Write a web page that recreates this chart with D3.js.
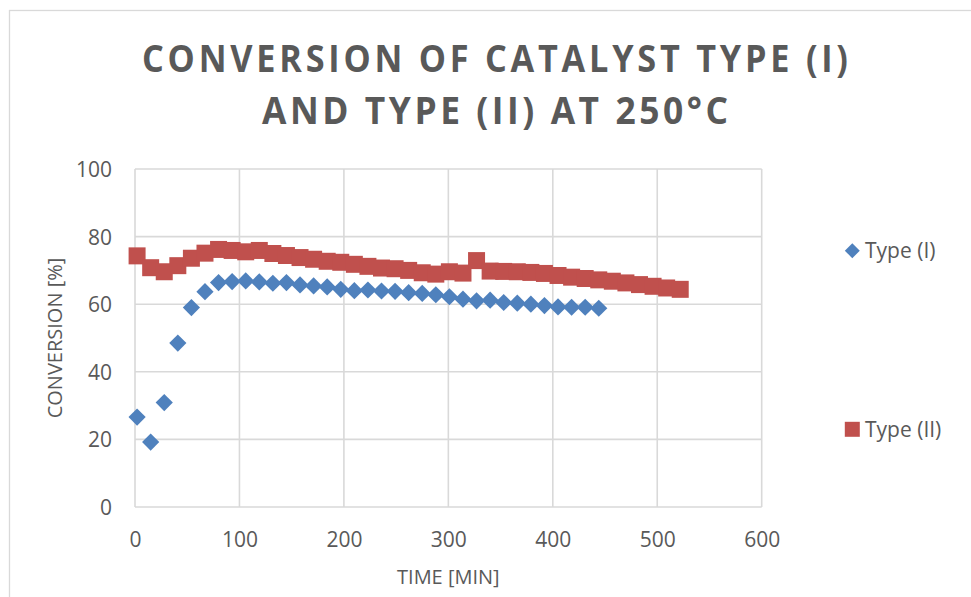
<!DOCTYPE html>
<html>
<head>
<meta charset="utf-8">
<script src="https://cdn.jsdelivr.net/npm/d3@7"></script>
<style>
  body { margin: 0; background: #ffffff; }
  svg { display: block; font-family: "Open Sans", sans-serif; }
</style>
</head>
<body>
<svg id="chart" width="971" height="597"></svg>
<script>
// Chart text
const titleLines = ["CONVERSION OF CATALYST TYPE (I)", "AND TYPE (II) AT 250°C"];
const xAxisTitle = "TIME [MIN]";
const yAxisTitle = "CONVERSION [%]";
const seriesNames = ["Type (I)", "Type (II)"];

// Axis ticks
const xTicks = [0, 100, 200, 300, 400, 500, 600];
const yTicks = [0, 20, 40, 60, 80, 100];

// Type (I): time [min] and conversion [%]
const timeTypeI = [2, 15, 28, 41, 54, 67, 80, 93, 106, 119, 132, 145, 158, 171, 184, 197,
  210, 223, 236, 249, 262, 275, 288, 301, 314, 327, 340, 353, 366, 379, 392, 405, 418, 431, 444];
const convTypeI = [26.6, 19.2, 30.9, 48.5, 59.0, 63.7, 66.4, 66.7, 66.9, 66.6, 66.2, 66.4, 65.7, 65.4, 65.1, 64.4,
  64.0, 64.2, 63.9, 63.8, 63.4, 63.2, 62.8, 62.2, 61.5, 61.0, 61.2, 60.5, 60.3, 60.0, 59.6, 59.2, 59.1, 59.1, 58.8];

// Type (II): time [min] and conversion [%]
const timeTypeII = [2, 15, 28, 41, 54, 67, 80, 93, 106, 119, 132, 145, 158, 171, 184, 197,
  210, 223, 236, 249, 262, 275, 288, 301, 314, 327, 340, 353, 366, 379, 392, 405, 418, 431, 444,
  457, 470, 483, 496, 509, 522];
const convTypeII = [74.3, 70.8, 69.6, 71.4, 73.6, 75.1, 76.2, 75.9, 75.5, 75.9, 75.0, 74.4, 73.8, 73.3, 72.7, 72.4,
  71.8, 71.2, 70.7, 70.5, 70.0, 69.3, 68.9, 69.6, 69.2, 72.9, 69.8, 69.7, 69.6, 69.4, 69.1, 68.5, 68.0, 67.6, 67.2,
  66.8, 66.3, 65.8, 65.3, 64.8, 64.4];

const colors = ["#4F81BD", "#C0504D"];
const textColor = "#595959";
const gridColor = "#D9D9D9";

const svg = d3.select("#chart");

// Outer chart frame
svg.append("rect")
  .attr("x", 9.5).attr("y", 10.5)
  .attr("width", 1000).attr("height", 700)
  .attr("fill", "#ffffff")
  .attr("stroke", gridColor).attr("stroke-width", 1.3);

const x = d3.scaleLinear().domain([0, 600]).range([135, 761.7]);
const y = d3.scaleLinear().domain([0, 100]).range([507, 169]);

// Gridlines
const grid = svg.append("g");
grid.selectAll("line.h").data(yTicks).join("line")
  .attr("x1", x(0)).attr("x2", x(600))
  .attr("y1", d => y(d)).attr("y2", d => y(d))
  .attr("stroke", gridColor).attr("stroke-width", 1.6);
grid.selectAll("line.v").data(xTicks).join("line")
  .attr("y1", y(0)).attr("y2", y(100))
  .attr("x1", d => x(d)).attr("x2", d => x(d))
  .attr("stroke", gridColor).attr("stroke-width", 1.6);

// Axes (labels only, no tick marks or domain line)
const yAxis = d3.axisLeft(y).tickValues(yTicks).tickSize(0).tickPadding(0);
const yG = svg.append("g").attr("transform", `translate(${x(0) - 23},0)`).call(yAxis);
const xAxis = d3.axisBottom(x).tickValues(xTicks).tickSize(0).tickPadding(0);
const xG = svg.append("g").attr("transform", `translate(0,${y(0)})`).call(xAxis);
[yG, xG].forEach(g => {
  g.select(".domain").remove();
  g.selectAll("text")
    .attr("fill", textColor)
    .style("font-family", "'Open Sans', sans-serif")
    .style("font-size", "21px");
});
yG.selectAll("text").attr("dy", "0.36em");
xG.selectAll("text").attr("dy", null).attr("y", 40);

// Axis titles
svg.append("text")
  .attr("x", (x(0) + x(600)) / 2).attr("y", 584)
  .attr("text-anchor", "middle")
  .attr("fill", textColor).style("font-size", "20px")
  .text(xAxisTitle);
svg.append("text")
  .attr("transform", `translate(62,${(y(0) + y(100)) / 2}) rotate(-90)`)
  .attr("text-anchor", "middle")
  .attr("fill", textColor).style("font-size", "20px")
  .text(yAxisTitle);

// Title: narrow glyphs with open letter spacing
const titleWidths = [706, 466];
const titleBase = [72, 124];
const glyphShare = 0.84;
titleLines.forEach((line, i) => {
  const g = svg.append("g");
  const t = g.append("text")
    .attr("x", 0).attr("y", 0)
    .attr("fill", textColor)
    .style("font-size", "38px").style("font-weight", "bold")
    .text(line);
  const natural = t.node().getComputedTextLength();
  const sx = Math.min(1, titleWidths[i] * glyphShare / natural);
  t.attr("textLength", titleWidths[i] / sx).attr("lengthAdjust", "spacing");
  const left = 495 - titleWidths[i] / 2;
  g.attr("transform", `translate(${left},${titleBase[i]}) scale(${sx},1)`);
});

// Markers
const diamond = d3.symbol(d3.symbolSquare, 148);
const square = d3.symbol(d3.symbolSquare, 289);

svg.append("g").selectAll("path")
  .data(d3.zip(timeTypeI, convTypeI)).join("path")
  .attr("d", diamond)
  .attr("transform", d => `translate(${x(d[0])},${y(d[1])}) rotate(45)`)
  .attr("fill", colors[0]);

svg.append("g").selectAll("path")
  .data(d3.zip(timeTypeII, convTypeII)).join("path")
  .attr("d", square)
  .attr("transform", d => `translate(${x(d[0])},${y(d[1])})`)
  .attr("fill", colors[1]);

// Legend
const legendY = [250.7, 429.3];
const legend = svg.append("g");
legend.append("path")
  .attr("d", d3.symbol(d3.symbolSquare, 112))
  .attr("transform", `translate(852.3,${legendY[0]}) rotate(45)`)
  .attr("fill", colors[0]);
legend.append("path")
  .attr("d", d3.symbol(d3.symbolSquare, 225))
  .attr("transform", `translate(852.3,${legendY[1]})`)
  .attr("fill", colors[1]);
seriesNames.forEach((name, i) => {
  legend.append("text")
    .attr("x", 865).attr("y", legendY[i]).attr("dy", "0.36em")
    .attr("fill", textColor).style("font-size", "21px")
    .text(name);
});
</script>
</body>
</html>
